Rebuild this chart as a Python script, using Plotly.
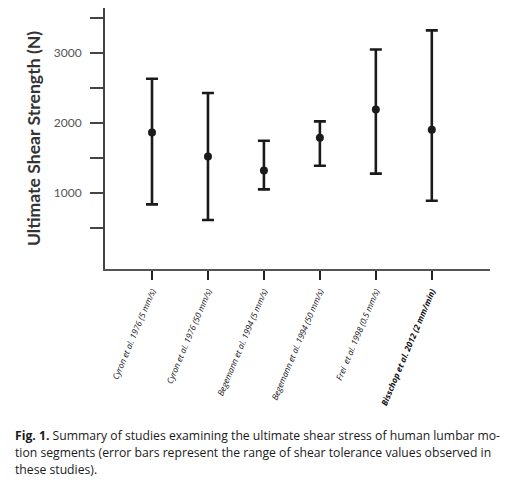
import plotly.graph_objects as go

studies = [
    "Cyron et al. 1976 (5 mm/s)",
    "Cyron et al. 1976 (50 mm/s)",
    "Begemann et al. 1994 (5 mm/s)",
    "Begemann et al. 1994 (50 mm/s)",
    "Frei  et al. 1998 (0.5 mm/s)",
    "<b>Bisschop et al. 2012 (2 mm/min)</b>",
]
mean_strength = [1866, 1523, 1323, 1790, 2194, 1904]
max_strength = [2633, 2429, 1747, 2023, 3051, 3323]
min_strength = [837, 614, 1051, 1390, 1276, 890]

y_tick_vals = [500, 1000, 1500, 2000, 2500, 3000, 3500]
y_tick_text = ["", "1000", "", "2000", "", "3000", ""]

caption_lines = [
    "<b>Fig. 1.</b> Summary of studies examining the ultimate shear stress of human lumbar mo-",
    "tion segments (error bars represent the range of shear tolerance values observed in",
    "these studies).",
]

# page offset of the figure (default body margin of the html page)
OFF = 8
W, H = 513 - OFF, 482 - OFF
ML, MR, MT, MB = 105 - OFF, 23, 8 - OFF, 213
PW, PH = W - ML - MR, H - MT - MB

x_idx = list(range(len(studies)))
err_plus = [hi - m for hi, m in zip(max_strength, mean_strength)]
err_minus = [m - lo for lo, m in zip(min_strength, mean_strength)]

fig = go.Figure()
fig.add_trace(go.Scatter(
    x=x_idx, y=mean_strength, mode="markers",
    marker=dict(size=8, color="#1a1a1a"),
    error_y=dict(type="data", symmetric=False, array=err_plus, arrayminus=err_minus,
                 color="#1a1a1a", thickness=2.6, width=6),
    showlegend=False, hoverinfo="skip",
))

def px_to_paper_y(py):
    # py: page pixel
    return (H - MB - (py - OFF)) / PH

def px_to_paper_x(px):
    return ((px - OFF) - ML) / PW

caption_y = [435, 452, 469]
for line, cy in zip(caption_lines, caption_y):
    fig.add_annotation(
        text=line, xref="paper", yref="paper",
        x=px_to_paper_x(13), y=px_to_paper_y(cy),
        xanchor="left", yanchor="middle", showarrow=False,
        font=dict(family="Open Sans", size=12.2, color="#1a1a1a"),
    )

fig.update_layout(
    width=W, height=H,
    margin=dict(l=ML, r=MR, t=MT, b=MB, autoexpand=False),
    paper_bgcolor="white", plot_bgcolor="white",
    xaxis=dict(
        range=[-0.84, 6.04], tickmode="array", tickvals=x_idx, ticktext=studies,
        tickangle=-67, ticks="outside", ticklen=9, tickwidth=1.5, tickcolor="#222",
        showline=True, linecolor="#555", linewidth=2, showgrid=False, zeroline=False,
        tickfont=dict(family="Open Sans", size=8.4, color="#111", style="italic"),
        ticklabelstandoff=3,
    ),
    yaxis=dict(
        range=[-86, 3643], tickmode="array", tickvals=y_tick_vals, ticktext=y_tick_text,
        ticks="outside", ticklen=13, tickwidth=1.5, tickcolor="#444",
        showline=True, linecolor="#444", linewidth=2, showgrid=False, zeroline=False,
        tickfont=dict(family="Lato", size=12, color="#555"),
        ticklabelstandoff=6,
        title=dict(text="<b>Ultimate Shear Strength (N)</b>",
                   font=dict(family="Lato", size=17.6, color="#333"), standoff=9),
    ),
)

fig.write_html("out.html")
